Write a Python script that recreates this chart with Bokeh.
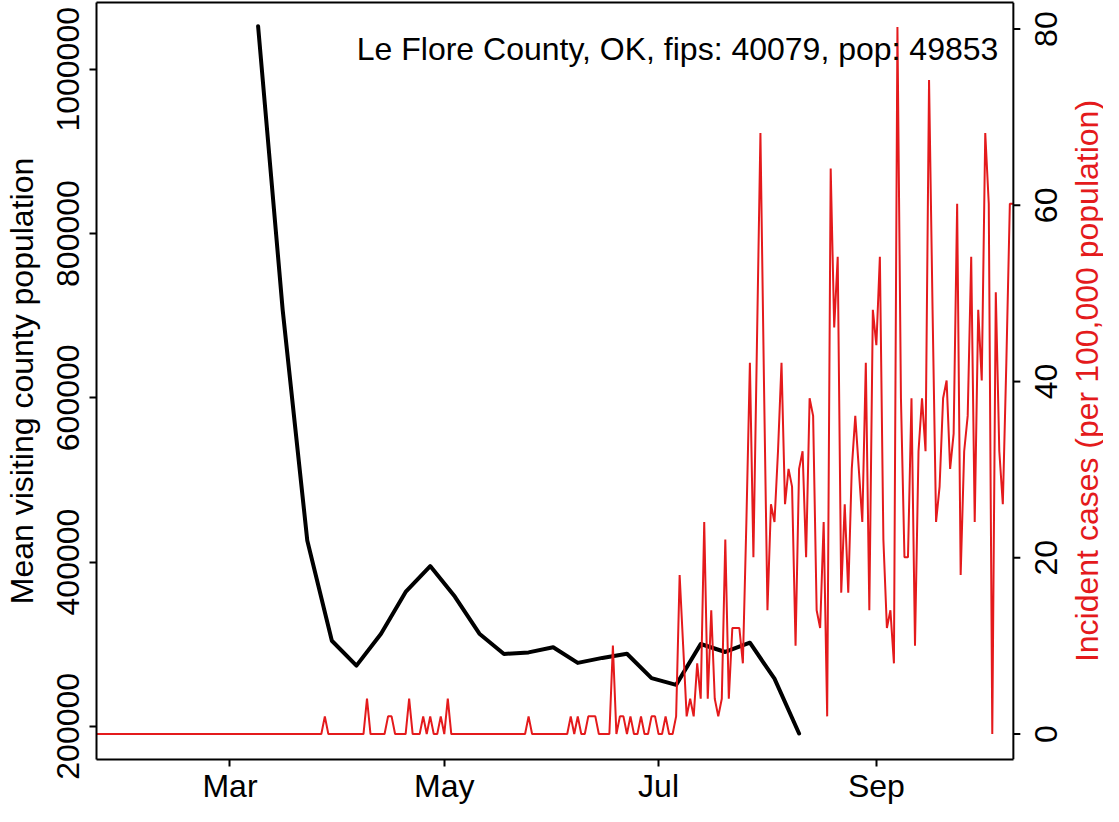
import math
import pandas as pd
from bokeh.plotting import figure
from bokeh.models import (Range1d, LinearAxis, FixedTicker, BasicTickFormatter,
                          DatetimeTickFormatter, Label, Span, ColumnDataSource)
from bokeh.embed import file_html
from bokeh.resources import INLINE

# ---------------- data ----------------
county_title = "Le Flore County, OK, fips: 40079, pop: 49853"
population = 49853

# weekly mean visiting county population (black line)
mobility_start = "2020-03-09"
mean_visiting_pop = [
    1052500, 706900, 426300, 304200, 273900, 312800, 363600, 395100,
    358000, 312800, 288100, 290000, 296300, 277200, 283300, 288400,
    258700, 250500, 300200, 290500, 301800, 258000, 191200,
]

# daily incident cases (counts), 2020-01-23 .. 2020-10-10
case_start = "2020-01-23"
cases_jan = [0, 0, 0, 0, 0, 0, 0, 0, 0]
cases_feb = [0, 0, 0, 0, 0, 0, 0, 0, 0, 0, 0, 0, 0, 0, 0, 0, 0, 0, 0, 0,
             0, 0, 0, 0, 0, 0, 0, 0, 0]
cases_mar = [0, 0, 0, 0, 0, 0, 0, 0, 0, 0, 0, 0, 0, 0, 0, 0, 0, 0, 0, 0,
             0, 0, 0, 0, 0, 0, 0, 1, 0, 0, 0]
cases_apr = [0, 0, 0, 0, 0, 0, 0, 0, 2, 0, 0, 0, 0, 0, 1, 1, 0, 0, 0, 0,
             2, 0, 0, 0, 1, 0, 1, 0, 0, 1]
cases_may = [0, 2, 0, 0, 0, 0, 0, 0, 0, 0, 0, 0, 0, 0, 0, 0, 0, 0, 0, 0,
             0, 0, 0, 0, 1, 0, 0, 0, 0, 0, 0]
cases_jun = [0, 0, 0, 0, 0, 1, 0, 1, 0, 0, 1, 1, 1, 0, 0, 0, 0, 5, 0, 1,
             1, 0, 1, 0, 0, 1, 0, 0, 1, 1]
cases_jul = [0, 0, 1, 0, 0, 1, 9, 5, 1, 2, 1, 4, 2, 12, 2, 7, 2, 1, 2, 11,
             2, 6, 6, 6, 4, 12, 21, 10, 22, 34, 20]
cases_aug = [7, 13, 12, 16, 21, 13, 15, 14, 5, 15, 16, 10, 19, 18, 7, 6, 12, 1,
             32, 23, 27, 8, 13, 8, 15, 18, 15, 12, 21, 7, 24]
cases_sep = [22, 27, 11, 6, 7, 4, 40, 19, 10, 10, 19, 5, 16, 19, 16, 37, 24, 12,
             14, 19, 20, 15, 17, 30, 9, 16, 18, 27, 12, 24]
cases_oct = [20, 34, 30, 0, 25, 16, 13, 21, 30, 30]

month_ticks = ["2020-03-01", "2020-05-01", "2020-07-01", "2020-09-01"]
left_ticks = [200000, 400000, 600000, 800000, 1000000]
right_ticks = [0, 20, 40, 60, 80]

left_label = "Mean visiting county population"
right_label = "Incident cases (per 100,000 population)"

# ---------------- layout (pixels / ranges) ----------------
W, H = 1103, 806
BORDER_L, BORDER_T, BORDER_B = 92, 2, 44
BOX_W_PX = 920.5            # width of the drawn plot box
FRAME_W_PX = W - BORDER_L   # frame runs on to the right edge (room for right axis)
LEFT_LO, LEFT_HI = 159600, 1081300
RIGHT_LO, RIGHT_HI = -2.89, 83.02
RED = "#E41A1C"
FONT = "Liberation Sans"
FS = "32px"

# ---------------- build ----------------
incident_cases = (cases_jan + cases_feb + cases_mar + cases_apr + cases_may +
                  cases_jun + cases_jul + cases_aug + cases_sep + cases_oct)
case_dates = pd.date_range(case_start, periods=len(incident_cases), freq="D")
incident_rate = [c * 100000.0 / population for c in incident_cases]
mob_dates = pd.date_range(mobility_start, periods=len(mean_visiting_pop), freq="7D")

src_mob = ColumnDataSource(dict(x=mob_dates, y=mean_visiting_pop))
src_case = ColumnDataSource(dict(x=case_dates, y=incident_rate))

x0, x1 = case_dates[0], case_dates[-1]
span = x1 - x0
x_end = x0 + span * (FRAME_W_PX / BOX_W_PX)
px = span / BOX_W_PX        # one pixel as a time interval

p = figure(width=W, height=H, x_axis_type="datetime",
           x_range=Range1d(x0, x_end), y_range=Range1d(LEFT_LO, LEFT_HI),
           output_backend="svg", toolbar_location=None,
           min_border_left=BORDER_L, min_border_right=0,
           min_border_top=BORDER_T, min_border_bottom=BORDER_B)
p.extra_y_ranges = {"right": Range1d(RIGHT_LO, RIGHT_HI)}
p.xgrid.visible = False
p.ygrid.visible = False
p.outline_line_color = None
p.background_fill_color = "white"
p.border_fill_color = "white"

# data lines
p.line("x", "y", source=src_mob, line_color="black", line_width=4,
       line_join="round", line_cap="round")
p.line("x", "y", source=src_case, y_range_name="right", line_color=RED,
       line_width=2)

# right edge of the plot box
p.add_layout(Span(location=x1, dimension="height", line_color="black",
                  line_width=2))

# county title inside the box, top right
p.add_layout(Label(x=x1, y=1024800, x_offset=-15, text=county_title,
                   text_align="right", text_baseline="alphabetic",
                   text_font=FONT, text_font_size=FS, text_color="black"))

# bottom axis (dates)
ms = [pd.Timestamp(t).value / 1e6 for t in month_ticks]
xa = p.xaxis[0]
xa.bounds = (x0, x1)
xa.ticker = FixedTicker(ticks=ms)
xa.formatter = DatetimeTickFormatter(days="%b", months="%b", years="%b")
xa.major_label_standoff = 1

# top edge of the box
top_axis = LinearAxis(ticker=FixedTicker(ticks=[]))
top_axis.bounds = (x0.value / 1e6, x1.value / 1e6)
p.add_layout(top_axis, "above")

# left axis
ya = p.yaxis[0]
ya.ticker = FixedTicker(ticks=left_ticks)
ya.formatter = BasicTickFormatter(use_scientific=False)
ya.major_label_orientation = "vertical"
ya.major_label_standoff = 10
ya.axis_label = left_label
ya.axis_label_standoff = 15

for ax in (xa, ya, top_axis):
    ax.axis_line_color = "black"
    ax.axis_line_width = 2
    ax.major_tick_line_color = "black"
    ax.major_tick_line_width = 2
    ax.major_tick_in = 0
    ax.major_tick_out = 7
    ax.minor_tick_line_color = None
    ax.major_label_text_font = FONT
    ax.major_label_text_font_size = FS
    ax.major_label_text_color = "black"
    ax.axis_label_text_font = FONT
    ax.axis_label_text_font_size = FS
    ax.axis_label_text_font_style = "normal"
    ax.axis_label_text_color = "black"

# right axis: tick marks, rotated labels, title (drawn inside the wide frame)
p.segment(x0=[x1] * len(right_ticks), y0=right_ticks,
          x1=[x1 + px * 7] * len(right_ticks), y1=right_ticks,
          y_range_name="right", line_color="black", line_width=2)
for v in right_ticks:
    p.add_layout(Label(x=x1, y=v, y_range_name="right", x_offset=33,
                       text=str(v), angle=math.pi / 2, text_align="center",
                       text_baseline="alphabetic", text_font=FONT,
                       text_font_size=FS, text_color="black"))
p.add_layout(Label(x=x1, y=(RIGHT_LO + RIGHT_HI) / 2, y_range_name="right",
                   x_offset=74, text=right_label, angle=math.pi / 2,
                   text_align="center", text_baseline="alphabetic",
                   text_font=FONT, text_font_size=FS, text_color=RED))

open("out.html", "w").write(file_html(p, INLINE))
